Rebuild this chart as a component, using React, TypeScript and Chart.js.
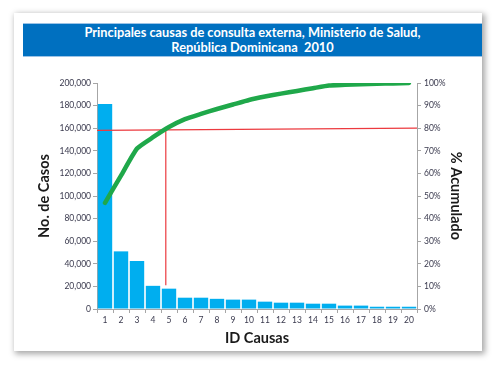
import React, { useEffect, useRef } from "react";
import { Chart, registerables } from "chart.js";

Chart.register(...registerables);

const titleLines = ["Principales causas de consulta externa, Ministerio de Salud,", "República Dominicana  2010"];
const causes = ["1", "2", "3", "4", "5", "6", "7", "8", "9", "10", "11", "12", "13", "14", "15", "16", "17", "18", "19", "20"];
const cases = [181500, 51000, 42500, 20500, 18000, 10000, 10000, 9000, 8300, 8300, 6500, 5600, 5600, 4700, 4700, 3000, 3000, 2000, 2000, 2000];
const cumulativePct = [47, 59, 71, 76, 80.5, 84, 86.3, 88.5, 90.5, 92.5, 94, 95.3, 96.5, 97.7, 98.9, 99.2, 99.5, 99.7, 99.8, 100];
const thresholdPct = [79, 80]; // red reference line: value at left edge, value at right edge
const cutoffIndex = 3.8; // position (category index) of vertical red line
const cutoffBottomCases = 21000;
const leftTicks = { min: 0, max: 200000, step: 20000 };
const rightTicks = { min: 0, max: 100, step: 10 };

const FONT = "Lato, 'Open Sans', sans-serif";
const TICK_COLOR = "#3a3a4e";
const AXIS_COLOR = "#a6a6a6";

const redLinesPlugin = {
  id: "redLines",
  afterDatasetDraw(chart: any, args: any) {
    if (args.index !== 0) return;
    const { ctx, chartArea } = chart;
    const y1 = chart.scales.y1;
    const y = chart.scales.y;
    const x = chart.scales.x;
    const yL = y1.getPixelForValue(thresholdPct[0]);
    const yR = y1.getPixelForValue(thresholdPct[1]);
    const xc = x.getPixelForValue(cutoffIndex);
    const t = (xc - chartArea.left) / (chartArea.right - chartArea.left);
    const yAt = yL + (yR - yL) * t;
    ctx.save();
    ctx.strokeStyle = "#ec3a3f";
    ctx.lineWidth = 1.2;
    ctx.beginPath();
    ctx.moveTo(chartArea.left, yL);
    ctx.lineTo(chartArea.right, yR);
    ctx.moveTo(xc, yAt);
    ctx.lineTo(xc, y.getPixelForValue(cutoffBottomCases));
    ctx.stroke();
    ctx.restore();
  },
};

function ParetoChart() {
  const ref = useRef<HTMLCanvasElement | null>(null);
  useEffect(() => {
    if (!ref.current) return;
    const chart = new Chart(ref.current, {
      type: "bar",
      data: {
        labels: causes,
        datasets: [
          {
            type: "bar",
            label: "No. de Casos",
            data: cases,
            backgroundColor: "#00aeef",
            borderWidth: 0,
            barPercentage: 0.9,
            categoryPercentage: 1,
            yAxisID: "y",
            order: 1,
          },
          {
            type: "line",
            label: "% Acumulado",
            data: cumulativePct,
            borderColor: "#1fa84a",
            borderWidth: 4.5,
            pointRadius: 0,
            tension: 0.15,
            borderCapStyle: "round",
            borderJoinStyle: "round",
            yAxisID: "y1",
            order: 0,
          } as any,
        ],
      },
      options: {
        responsive: false,
        animation: false,
        layout: { padding: { top: 26, left: 0, right: 0, bottom: 0 } },
        plugins: { legend: { display: false }, tooltip: { enabled: false }, title: { display: false } },
        scales: {
          x: {
            grid: { drawOnChartArea: false, drawTicks: true, tickLength: 4, color: AXIS_COLOR, offset: true },
            border: { display: true, color: AXIS_COLOR },
            ticks: { color: TICK_COLOR, font: { family: FONT, size: 8.5 }, padding: 2, maxRotation: 0, autoSkip: false },
            title: {
              display: true,
              text: "ID Causas",
              color: "#1a1a1a",
              font: { family: FONT, size: 14.5, weight: "bold" },
              padding: { top: 0, bottom: 4 },
            },
            afterFit: (s: any) => { s.height = 42; },
          },
          y: {
            position: "left",
            min: leftTicks.min,
            max: leftTicks.max,
            grid: { drawOnChartArea: false, drawTicks: true, tickLength: 4, color: AXIS_COLOR },
            border: { display: true, color: AXIS_COLOR },
            ticks: {
              stepSize: leftTicks.step,
              color: TICK_COLOR,
              font: { family: FONT, size: 8.5 },
              padding: 2,
              callback: (v: any) => Number(v).toLocaleString("en-US"),
            },
            title: {
              display: true,
              text: "No. de Casos",
              color: "#1a1a1a",
              font: { family: FONT, size: 14.5, weight: "bold" },
              padding: { top: 22, bottom: 0 },
            },
            afterFit: (s: any) => { s.width = 83; },
          },
          y1: {
            position: "right",
            min: rightTicks.min,
            max: rightTicks.max,
            grid: { drawOnChartArea: false, drawTicks: true, tickLength: 4, color: AXIS_COLOR },
            border: { display: true, color: AXIS_COLOR },
            ticks: {
              stepSize: rightTicks.step,
              color: TICK_COLOR,
              font: { family: FONT, size: 8.5 },
              padding: 3,
              callback: (v: any) => v + "%",
            },
            title: {
              display: true,
              text: "% Acumulado",
              color: "#1a1a1a",
              font: { family: FONT, size: 14.5, weight: "bold" },
              padding: { top: 18, bottom: 0 },
            },
            afterFit: (s: any) => { s.width = 65; },
          },
        },
      },
      plugins: [redLinesPlugin],
    } as any);
    return () => chart.destroy();
  }, []);
  return <canvas ref={ref} width={468} height={294} style={{ display: "block", position: "absolute", left: 0, top: 44 }} />;
}

export default function App() {
  return (
    <div
      style={{
        position: "absolute",
        left: 14,
        top: 13,
        width: 468,
        height: 338,
        background: "#ffffff",
        boxShadow: "2px 2px 6px 1px rgba(0,0,0,0.35)",
      }}
    >
      <div
        style={{
          position: "absolute",
          left: 9,
          top: 10,
          width: 459,
          height: 34,
          background: "#0070c0",
          borderTop: "1px solid #9cc3e6",
          borderBottom: "1px solid #9cc3e6",
          boxSizing: "border-box",
          color: "#ffffff",
          fontFamily: FONT,
          fontWeight: "bold",
          fontSize: 12.8,
          lineHeight: "15px",
          textAlign: "center",
          paddingTop: 1,
        }}
      >
        {titleLines.map((l, i) => (
          <div key={i} style={{ whiteSpace: "pre" }}>{l}</div>
        ))}
      </div>
      <ParetoChart />
    </div>
  );
}
